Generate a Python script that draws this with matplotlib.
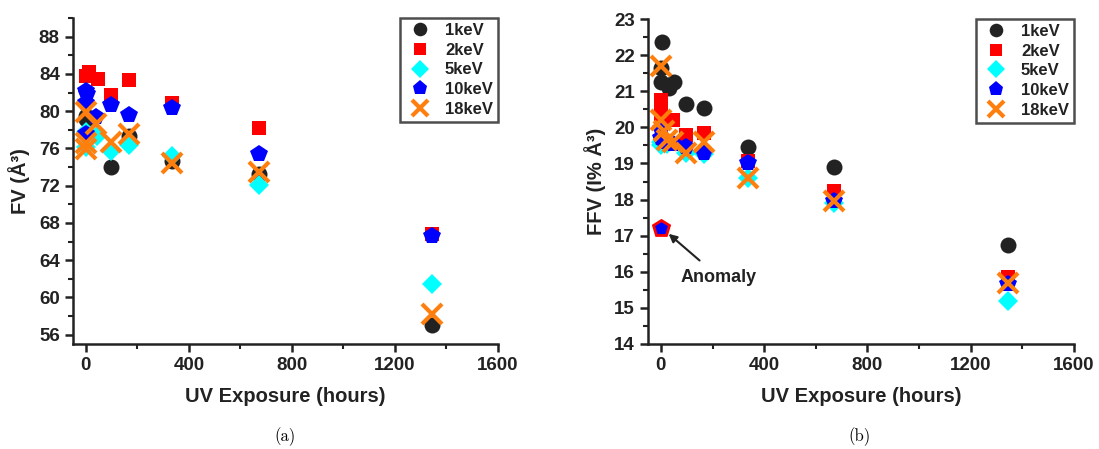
import matplotlib
matplotlib.use("Agg")
import matplotlib.pyplot as plt
from matplotlib.ticker import MultipleLocator

plt.rcParams['font.family'] = ['Liberation Sans', 'DejaVu Sans']
plt.rcParams['font.weight'] = 'bold'

labels = ['1keV', '2keV', '5keV', '10keV', '18keV']
colors = ['#222222', '#ff0000', '#00ffff', '#0000ff', '#ff7f0e']
markers = ['o', 's', 'D', 'p', 'x']

# Panel (a): FV (Å^3)
fv_hours_1 = [0, 0, 96, 168, 336, 672, 1344]
fv_1 = [79.5, 79.2, 74.0, 77.3, 74.7, 73.3, 57.0]
fv_hours_2 = [0, 12, 48, 96, 168, 336, 672, 1344]
fv_2 = [83.8, 84.2, 83.4, 81.7, 83.3, 80.9, 78.2, 66.8]
fv_hours_5 = [0, 0, 44, 96, 168, 336, 672, 1344]
fv_5 = [76.2, 77.8, 77.3, 75.7, 76.4, 75.2, 72.1, 61.4]
fv_hours_10 = [0, 0, 6, 0, 40, 96, 168, 336, 672, 1344]
fv_10 = [82.2, 80.9, 81.8, 77.5, 79.4, 80.7, 79.6, 80.3, 75.4, 66.6]
fv_hours_18 = [0, 0, 0, 40, 96, 168, 336, 672, 1344]
fv_18 = [79.9, 76.6, 75.9, 78.6, 76.7, 77.5, 74.4, 73.5, 58.2]

# Panel (b): FFV (I% Å^3)
ffv_hours_1 = [6, 0, 0, 30, 50, 96, 168, 336, 672, 1344]
ffv_1 = [22.37, 21.63, 21.26, 21.1, 21.25, 20.66, 20.53, 19.46, 18.9, 16.73]
ffv_hours_2 = [0, 0, 0, 48, 96, 168, 336, 672, 1344]
ffv_2 = [20.75, 20.5, 20.25, 20.2, 19.78, 19.83, 19.08, 18.25, 15.85]
ffv_hours_5 = [0, 0, 24, 96, 168, 336, 672, 1344]
ffv_5 = [19.6, 19.5, 19.55, 19.3, 19.25, 18.6, 17.9, 15.2]
ffv_hours_10 = [0, 0, 12, 48, 96, 168, 336, 672, 1344]
ffv_10 = [19.95, 19.7, 19.6, 19.55, 19.45, 19.3, 19.0, 17.95, 15.65]
ffv_hours_18 = [0, 0, 12, 24, 48, 96, 168, 336, 672, 1344]
ffv_18 = [21.7, 20.2, 19.9, 19.65, 19.6, 19.3, 19.6, 18.6, 17.95, 15.7]
anomaly_hours = [0]
anomaly_ffv = [17.2]

fv_sets = [(fv_hours_1, fv_1), (fv_hours_2, fv_2), (fv_hours_5, fv_5),
           (fv_hours_10, fv_10), (fv_hours_18, fv_18)]
ffv_sets = [(ffv_hours_1, ffv_1), (ffv_hours_2, ffv_2), (ffv_hours_5, ffv_5),
            (ffv_hours_10, ffv_10), (ffv_hours_18, ffv_18)]

sizes = {'o': 11.5, 's': 10.5, 'D': 10.5, 'p': 13, 'x': 14}

fig = plt.figure(figsize=(10.99, 4.49), dpi=100)
axA = fig.add_axes([73/1099, 1-344/449, 425/1099, 326/449])
axB = fig.add_axes([648/1099, 1-344/449, 426/1099, 325/449])


def draw(ax, sets):
    for (h, v), lab, c, m in zip(sets, labels, colors, markers):
        if m == 'x':
            ax.plot(h, v, linestyle='none', marker=m, color=c, markersize=sizes[m],
                    markeredgewidth=3, label=lab, clip_on=False)
        else:
            ax.plot(h, v, linestyle='none', marker=m, color=c, markersize=sizes[m],
                    markeredgewidth=0, label=lab, clip_on=False)


def style(ax, ylim, ymaj, ymin, ylabel):
    ax.set_xlim(-50, 1600)
    ax.set_ylim(*ylim)
    ax.xaxis.set_major_locator(MultipleLocator(400))
    ax.xaxis.set_minor_locator(MultipleLocator(200))
    ax.yaxis.set_major_locator(MultipleLocator(ymaj))
    ax.yaxis.set_minor_locator(MultipleLocator(ymin))
    for s in ['top', 'right']:
        ax.spines[s].set_visible(False)
    for s in ['left', 'bottom']:
        ax.spines[s].set_linewidth(1.8)
        ax.spines[s].set_color('#222222')
    ax.tick_params(which='major', direction='out', length=6, width=1.8,
                   labelsize=13.5, colors='#222222')
    ax.tick_params(which='minor', direction='out', length=3.5, width=1.5,
                   colors='#222222')
    for t in ax.get_xticklabels() + ax.get_yticklabels():
        t.set_fontweight('bold')
    ax.set_xlabel('UV Exposure (hours)', fontsize=14.5, fontweight='bold',
                  color='#222222', labelpad=9)
    ax.set_ylabel(ylabel, fontsize=14.5, fontweight='bold', color='#222222', labelpad=6)
    leg = ax.legend(loc='upper right', bbox_to_anchor=(1.0, 1.0), borderaxespad=0,
                    frameon=True, fancybox=False, fontsize=12, handletextpad=0.6,
                    labelspacing=0.28, borderpad=0.3, handlelength=1.8,
                    markerscale=0.85)
    leg.get_frame().set_edgecolor('#222222')
    leg.get_frame().set_linewidth(1.8)
    for t in leg.get_texts():
        t.set_fontweight('bold')
        t.set_color('#222222')


draw(axA, fv_sets)
style(axA, (55, 90), 4, 2, 'FV (Å³)')

draw(axB, ffv_sets)
axB.plot(anomaly_hours, anomaly_ffv, linestyle='none', marker='p', markersize=12,
         markerfacecolor='#0000ff', markeredgecolor='#ff0000', markeredgewidth=2)
style(axB, (14, 23), 1, 0.5, 'FFV (I% Å³)')
axB.annotate('Anomaly', xy=(30, 17.05), xytext=(225, 15.85),
             fontsize=13, fontweight='bold', color='#222222', ha='center', va='center',
             arrowprops=dict(arrowstyle='-|>', color='#222222', lw=1.5,
                             mutation_scale=12, shrinkA=6, shrinkB=0))

fig.text(285/1099, 1-437/449, '(a)', fontsize=12, family=['cmr10', 'DejaVu Serif'],
         fontweight='normal', ha='center', va='center')
fig.text(860/1099, 1-437/449, '(b)', fontsize=12, family=['cmr10', 'DejaVu Serif'],
         fontweight='normal', ha='center', va='center')

fig.savefig('out.png', dpi=100)
